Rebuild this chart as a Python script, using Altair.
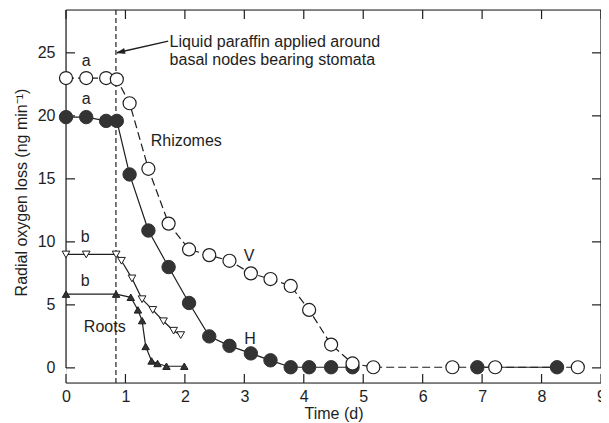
import altair as alt
import pandas as pd

# ---------------- data ----------------
# Rhizomes, vertical (open circles, dashed line)
v_x = [0, 0.34, 0.675, 0.855, 1.07, 1.386, 1.726, 2.07, 2.41, 2.75, 3.11, 3.44, 3.78,
       4.09, 4.46, 4.82, 5.17, 6.5, 7.22, 8.61]
v_y = [23.0, 23.0, 23.0, 22.9, 21.0, 15.8, 11.45, 9.4, 8.95, 8.5, 7.5, 7.05, 6.5,
       4.6, 1.85, 0.35, 0.05, 0.05, 0.05, 0.05]
# Rhizomes, horizontal (filled circles, solid line)
h_x = [0, 0.34, 0.675, 0.855, 1.07, 1.386, 1.726, 2.07, 2.41, 2.75, 3.11, 3.44, 3.78,
       4.09, 4.46, 4.82, 6.92, 8.26]
h_y = [19.9, 19.9, 19.6, 19.6, 15.35, 10.9, 8.0, 5.15, 2.5, 1.75, 1.15, 0.6, 0.05,
       0.05, 0.05, 0.05, 0.05, 0.05]
h_seg = [1] * 16 + [2, 2]
# Roots (open down-triangles)
rd_x = [0, 0.34, 0.843, 0.933, 1.11, 1.28, 1.46, 1.64, 1.81, 1.93]
rd_y = [9.0, 9.0, 9.0, 8.5, 7.1, 5.45, 4.6, 3.7, 2.95, 2.6]
# Roots (filled up-triangles)
ru_x = [0, 0.843, 1.09, 1.21, 1.28, 1.34, 1.44, 1.54, 1.69, 1.99]
ru_y = [5.85, 5.85, 5.6, 4.6, 3.75, 1.7, 0.55, 0.35, 0.13, 0.13]

x_ticks = [0, 1, 2, 3, 4, 5, 6, 7, 8, 9]
y_ticks = [0, 5, 10, 15, 20, 25]
x_min, x_max = 0, 9
y_min, y_max = -1.2, 28.4
paraffin_day = 0.84

labels_text = ["a", "a", "b", "b", "Rhizomes", "V", "H", "Roots"]
labels_x = [0.34, 0.34, 0.323, 0.323, 1.425, 3.08, 3.095, 0.30]
labels_y = [24.34, 21.3, 10.35, 6.9, 18.0, 8.87, 2.33, 3.25]
labels_align = ["center", "center", "center", "center", "left", "center", "center", "left"]

note_lines = ["Liquid paraffin applied around", "basal nodes bearing stomata"]
note_x = [1.743, 1.743]
note_y = [25.85, 24.4]
arrow_from = (1.72, 25.93)
arrow_to = (0.855, 25.0)

W, H = 535, 373
FONT = "Liberation Sans"
FS = 16
INK = "#1e1e1e"
FILL = "#333333"

xs = alt.Scale(domain=[x_min, x_max], nice=False, zero=False)
ys = alt.Scale(domain=[y_min, y_max], nice=False, zero=False)

# ---------------- axes (labels + titles only) ----------------
x_axis = alt.Axis(values=x_ticks, domain=False, ticks=False, grid=False, tickSize=0,
                  labelPadding=5, labelFont=FONT, labelFontSize=FS, labelColor=INK,
                  labelFlush=False, labelOverlap=False,
                  title="Time (d)", titleFont=FONT, titleFontSize=FS, titleFontWeight="normal",
                  titleColor=INK, titleBaseline="middle", titleY=30, titleX=W / 2)
y_axis = alt.Axis(values=y_ticks, domain=False, ticks=False, grid=False, tickSize=0,
                  labelPadding=11, labelFont=FONT, labelFontSize=FS, labelColor=INK,
                  labelFlush=False, labelOverlap=False,
                  title="Radial oxygen loss (ng min⁻¹)", titleFont=FONT, titleFontSize=FS,
                  titleFontWeight="normal", titleColor=INK, titleAngle=-90,
                  titleBaseline="middle", titleAlign="center", titleX=-45, titleY=182)


def X(field="x"):
    return alt.X(f"{field}:Q", scale=xs, axis=x_axis)


def Y(field="y"):
    return alt.Y(f"{field}:Q", scale=ys, axis=y_axis)


# ---------------- frame ----------------
frame_df = pd.DataFrame({
    "x": [x_min, x_min, x_min, x_max],
    "x2": [x_max, x_max, x_min, x_max],
    "y": [y_max, y_min, 0, 0],
    "y2": [y_max, y_min, y_max, y_max],
})
frame = alt.Chart(frame_df).mark_rule(color=INK, strokeWidth=1.2).encode(
    x=X(), x2="x2:Q", y=Y(), y2="y2:Q")

tx = pd.DataFrame({"x": x_ticks})
ty = pd.DataFrame({"y": y_ticks})
tick_len = 9
bottom_ticks = alt.Chart(tx).mark_rule(color=INK, strokeWidth=1.2).encode(
    x=X(), y=alt.value(H), y2=alt.value(H - tick_len))
top_ticks = alt.Chart(tx).mark_rule(color=INK, strokeWidth=1.2).encode(
    x=X(), y=alt.value(0), y2=alt.value(tick_len))
left_ticks = alt.Chart(ty).mark_rule(color=INK, strokeWidth=1.2).encode(
    y=Y(), x=alt.value(0), x2=alt.value(tick_len))
right_ticks = alt.Chart(ty).mark_rule(color=INK, strokeWidth=1.2).encode(
    y=Y(), x=alt.value(W), x2=alt.value(W - tick_len))

# ---------------- dashed time marker ----------------
vline = alt.Chart(pd.DataFrame({"x": [paraffin_day], "y": [y_min], "y2": [y_max]})).mark_rule(
    color=INK, strokeWidth=1.2, strokeDash=[5, 3]).encode(x=X(), y=Y(), y2="y2:Q")

# ---------------- series ----------------
v_df = pd.DataFrame({"x": v_x, "y": v_y})
h_df = pd.DataFrame({"x": h_x, "y": h_y, "seg": h_seg})
rd_df = pd.DataFrame({"x": rd_x, "y": rd_y})
ru_df = pd.DataFrame({"x": ru_x, "y": ru_y})

v_line = alt.Chart(v_df).mark_line(color=INK, strokeWidth=1.2, strokeDash=[8, 4]).encode(
    x=X(), y=Y())
h_line = alt.Chart(h_df).mark_line(color=INK, strokeWidth=1.2).encode(
    x=X(), y=Y(), detail="seg:N")
rd_line = alt.Chart(rd_df).mark_line(color=INK, strokeWidth=1.2).encode(x=X(), y=Y())
ru_line = alt.Chart(ru_df).mark_line(color=INK, strokeWidth=1.2).encode(x=X(), y=Y())

h_pts = alt.Chart(h_df).mark_point(shape="circle", filled=True, fill=FILL, stroke=FILL,
                                   strokeWidth=1, size=180, opacity=1).encode(x=X(), y=Y())
v_pts = alt.Chart(v_df).mark_point(shape="circle", filled=True, fill="white", stroke=INK,
                                   strokeWidth=1.2, size=170, opacity=1).encode(x=X(), y=Y())
rd_pts = alt.Chart(rd_df).mark_point(shape="triangle-down", filled=True, fill="white", stroke=INK,
                                     strokeWidth=1, size=60, opacity=1).encode(x=X(), y=Y())
ru_pts = alt.Chart(ru_df).mark_point(shape="triangle-up", filled=True, fill=FILL, stroke=INK,
                                     strokeWidth=1, size=55, opacity=1).encode(x=X(), y=Y())

# ---------------- text ----------------
lab_df = pd.DataFrame({"x": labels_x, "y": labels_y, "t": labels_text, "al": labels_align})
lab_left = alt.Chart(lab_df[lab_df.al == "left"]).mark_text(
    font=FONT, fontSize=FS, color=INK, align="left", baseline="middle").encode(
    x=X(), y=Y(), text="t:N")
lab_center = alt.Chart(lab_df[lab_df.al == "center"]).mark_text(
    font=FONT, fontSize=FS, color=INK, align="center", baseline="middle").encode(
    x=X(), y=Y(), text="t:N")

note_df = pd.DataFrame({"x": note_x, "y": note_y, "t": note_lines})
note = alt.Chart(note_df).mark_text(font=FONT, fontSize=FS, color=INK, align="left",
                                    baseline="middle").encode(x=X(), y=Y(), text="t:N")

arrow_df = pd.DataFrame({"x": [arrow_from[0]], "y": [arrow_from[1]],
                         "x2": [arrow_to[0]], "y2": [arrow_to[1]]})
arrow_line = alt.Chart(arrow_df).mark_rule(color=INK, strokeWidth=1.5).encode(
    x=X(), y=Y(), x2="x2:Q", y2="y2:Q")
head_df = pd.DataFrame({"x": [arrow_to[0]], "y": [arrow_to[1]]})
arrow_head = alt.Chart(head_df).mark_point(
    shape="M0,0L2,-0.65L2,0.65Z", size=64, filled=True, fill=INK, stroke=INK,
    strokeWidth=0.5, angle=347, opacity=1).encode(x=X(), y=Y())

chart = alt.layer(
    vline, frame, bottom_ticks, top_ticks, left_ticks, right_ticks,
    v_line, h_line, rd_line, ru_line,
    h_pts, v_pts, rd_pts, ru_pts,
    lab_left, lab_center, note, arrow_line, arrow_head,
).properties(
    width=W, height=H,
    autosize=alt.AutoSizeParams(type="none"),
    padding={"left": 58, "top": 2, "right": 0, "bottom": 42},
).configure_view(stroke=None).configure(background="white")

chart.save("out.html", embed_options={"renderer": "svg", "actions": False})
